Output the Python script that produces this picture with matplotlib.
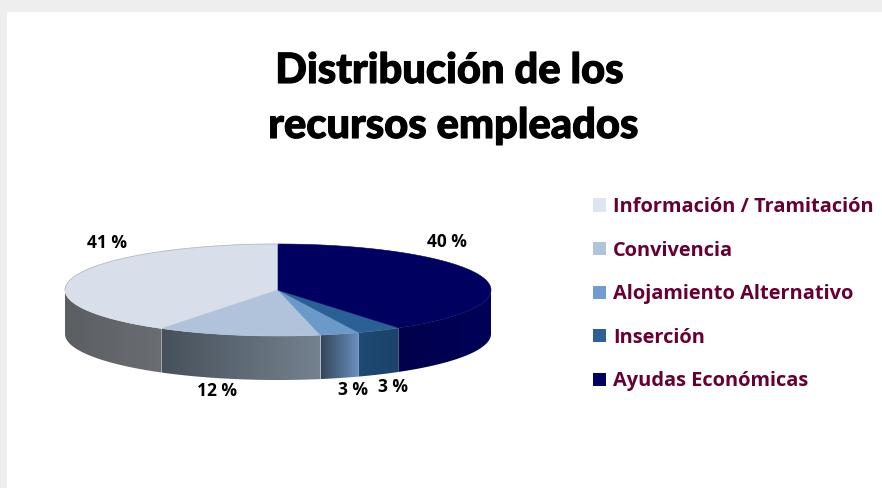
import numpy as np
import matplotlib
matplotlib.use('Agg')
import matplotlib.pyplot as plt
import matplotlib.patheffects as pe
from matplotlib.colors import LinearSegmentedColormap
from matplotlib.patches import Patch, Polygon, Rectangle

categories = ['Información / Tramitación', 'Convivencia', 'Alojamiento Alternativo',
              'Inserción', 'Ayudas Económicas']
shares = [40.8, 12.4, 3.0, 3.4, 40.4]
top_colors = ['#d9dfea', '#b0c3da', '#6b9aca', '#2a6096', '#000060']
side_colors = [('#5b5e63', '#6a6d72'), ('#47515b', '#75828f'), ('#35465c', '#6c92c0'),
               ('#1e4a74', '#1c4269'), ('#00004c', '#000058')]
legend_colors = ['#dde5f0', '#b0c4dc', '#6f9dcf', '#2c6096', '#00005f']
# where each percent label sits
label_pos = [(107, 243), (217, 391), (353, 390), (393, 387), (447, 242)]

cx, cy, rx, ry, depth = 278, 290, 213, 46, 44


def rim(t0, t1, n=80):
    # t is degrees from the top of the pie, going counter clockwise
    t = np.radians(np.linspace(t0, t1, n))
    return cx - rx * np.sin(t), cy - ry * np.cos(t)


fig = plt.figure(figsize=(8.82, 4.88), dpi=100, facecolor='#eeeeee')
ax = fig.add_axes([0, 0, 1, 1])
ax.set_xlim(0, 882)
ax.set_ylim(488, 0)
ax.axis('off')
ax.add_patch(Rectangle((7, 12), 875, 476, facecolor='white', edgecolor='none', zorder=0))

bounds = np.cumsum([0] + shares) * 3.6

# side wall first, only the front half of the rim shows
for i in range(len(shares)):
    t0, t1 = max(bounds[i], 90), min(bounds[i + 1], 270)
    if t1 <= t0:
        continue
    x, y = rim(t0, t1)
    pts = np.r_[np.c_[x, y], np.c_[x[::-1], y[::-1] + depth]]
    poly = Polygon(pts, closed=True, facecolor='none', edgecolor='none', zorder=2)
    ax.add_patch(poly)
    cmap = LinearSegmentedColormap.from_list('side%d' % i, side_colors[i])
    img = ax.imshow(np.linspace(0, 1, 64).reshape(1, -1), cmap=cmap, aspect='auto', zorder=2,
                    extent=(x.min(), x.max(), y.max() + depth, y.min()), interpolation='bilinear')
    img.set_clip_path(poly)

# top of the pie
for i in range(len(shares)):
    x, y = rim(bounds[i], bounds[i + 1])
    pts = np.r_[[[cx, cy]], np.c_[x, y]]
    ax.add_patch(Polygon(pts, closed=True, facecolor=top_colors[i], edgecolor=top_colors[i],
                         linewidth=0.4, zorder=3))
x, y = rim(0, 90)
ax.plot(x, y, color='#b8bbc0', linewidth=0.6, zorder=4)

ax.set_xlim(0, 882)
ax.set_ylim(488, 0)

for value, (lx, ly) in zip(shares, label_pos):
    ax.text(lx, ly, '%d %%' % round(value), ha='center', va='center', fontsize=12.5,
            fontweight='bold', family='Open Sans', color='black', zorder=5)

title_fx = [pe.withStroke(linewidth=0.8, foreground='black')]
ax.text(449, 71, 'Distribución de los', ha='center', va='center', fontsize=30, fontweight='black',
        family='Lato', color='black', path_effects=title_fx)
ax.text(453, 126, 'recursos empleados', ha='center', va='center', fontsize=30, fontweight='black',
        family='Lato', color='black', path_effects=title_fx)

handles = [Patch(facecolor=c, edgecolor='none') for c in legend_colors]
ax.legend(handles, categories, loc='upper left', bbox_to_anchor=(593 / 882, 1 - 197 / 488),
          frameon=False, prop={'family': 'Open Sans', 'weight': 'bold', 'size': 14.4},
          labelcolor='#660033', handlelength=0.65, handleheight=0.65, handletextpad=0.35,
          labelspacing=1.18, borderpad=0, borderaxespad=0)

fig.savefig('out.png', dpi=100, facecolor=fig.get_facecolor())
